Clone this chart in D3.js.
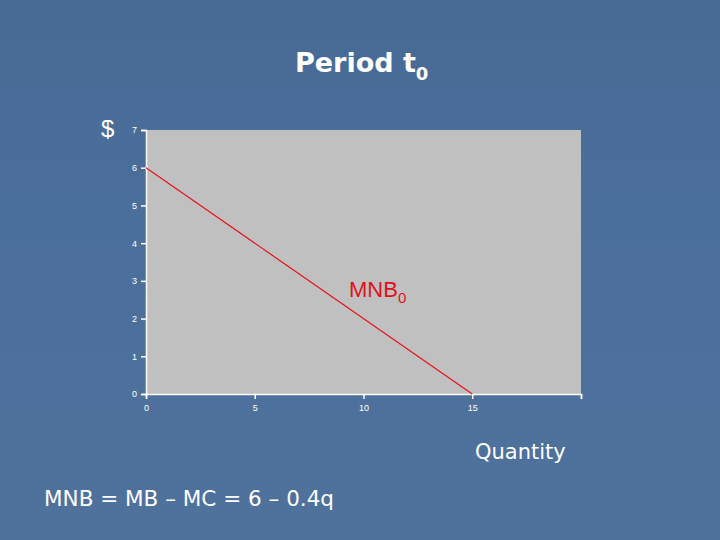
<!DOCTYPE html>
<html>
<head>
<meta charset="utf-8">
<script src="https://cdn.jsdelivr.net/npm/d3@7"></script>
<style>
  body { margin: 0; background: #4a6d98; }
  svg { display: block; font-family: "Liberation Sans", Arial, sans-serif; }
</style>
</head>
<body>
<svg></svg>
<script>
// data
const quantity = [0, 15];
const mnb = [6, 0];
const x_ticks = [0, 5, 10, 15, 20];
const x_tick_labels = ["0", "5", "10", "15", ""];
const y_ticks = [0, 1, 2, 3, 4, 5, 6, 7];

const svg = d3.select("svg");
const svg_width = 720;
const svg_height = 540;
svg.attr("width", svg_width).attr("height", svg_height);

// background with a faint lighter wash toward the bottom
const defs = svg.append("defs");
const grad = defs.append("linearGradient")
    .attr("id", "bg")
    .attr("x1", 0).attr("y1", 0).attr("x2", 0).attr("y2", 1);
grad.append("stop").attr("offset", "0%").attr("stop-color", "#476a95");
grad.append("stop").attr("offset", "40%").attr("stop-color", "#4b6f9b");
grad.append("stop").attr("offset", "100%").attr("stop-color", "#4f729d");
svg.append("rect")
    .attr("width", svg_width)
    .attr("height", svg_height)
    .attr("fill", "url(#bg)");

const plot = { left: 146, right: 581, top: 130, bottom: 394 };

const x = d3.scaleLinear().domain([0, 20]).range([plot.left, plot.right]);
const y = d3.scaleLinear().domain([0, 7]).range([plot.bottom, plot.top]);

svg.append("rect")
    .attr("x", plot.left)
    .attr("y", plot.top)
    .attr("width", plot.right - plot.left)
    .attr("height", plot.bottom - plot.top)
    .attr("fill", "#c0c0c0");

const xAxis = svg.append("g")
    .attr("transform", `translate(0, ${plot.bottom})`)
    .call(d3.axisBottom(x)
        .tickValues(x_ticks)
        .tickFormat((d, i) => x_tick_labels[i])
        .tickSize(5)
        .tickPadding(6));

const yAxis = svg.append("g")
    .attr("transform", `translate(${plot.left}, 0)`)
    .call(d3.axisLeft(y).tickValues(y_ticks).tickFormat(d3.format("d")).tickSize(5).tickPadding(4));

[xAxis, yAxis].forEach(g => {
    g.selectAll("path, line").attr("stroke", "white").attr("stroke-width", 1.5);
    g.selectAll("text")
        .attr("fill", "white")
        .style("font-size", "9px")
        .style("font-family", "Liberation Sans, Arial, sans-serif");
});

// MNB line
const line = d3.line()
    .x((d, i) => x(quantity[i]))
    .y(d => y(d));
svg.append("path")
    .datum(mnb)
    .attr("d", line)
    .attr("fill", "none")
    .attr("stroke", "#e8101c")
    .attr("stroke-width", 1.2);

// title
const title = svg.append("text")
    .attr("x", 295)
    .attr("y", 72)
    .attr("fill", "white")
    .style("font-family", "Verdana, DejaVu Sans, sans-serif")
    .style("font-weight", "bold")
    .style("font-size", "27px");
title.append("tspan").text("Period t");
title.append("tspan").attr("dy", 8).style("font-size", "18px").text("0");

svg.append("text")
    .attr("x", 101)
    .attr("y", 137)
    .attr("fill", "white")
    .style("font-size", "24px")
    .text("$");

const label = svg.append("text")
    .attr("x", 349)
    .attr("y", 297)
    .attr("fill", "#e0101c")
    .style("font-size", "22px");
label.append("tspan").text("MNB");
label.append("tspan").attr("dy", 6).style("font-size", "15px").text("0");

svg.append("text")
    .attr("x", 475)
    .attr("y", 459)
    .attr("fill", "white")
    .style("font-family", "Verdana, DejaVu Sans, sans-serif")
    .style("font-size", "21px")
    .text("Quantity");

svg.append("text")
    .attr("x", 44)
    .attr("y", 506)
    .attr("fill", "white")
    .style("font-family", "Verdana, DejaVu Sans, sans-serif")
    .style("font-size", "21.5px")
    .text("MNB = MB \u2013 MC = 6 \u2013 0.4q");
</script>
</body>
</html>
